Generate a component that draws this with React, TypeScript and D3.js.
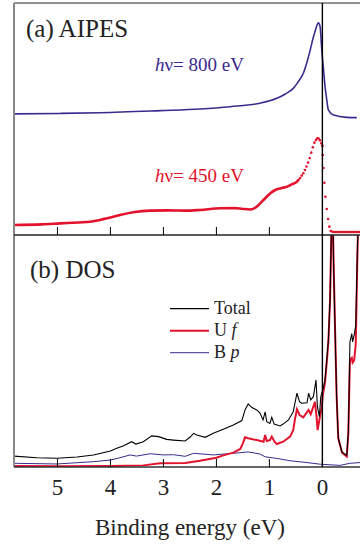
import React from "react";
import * as d3 from "d3";

// ---- Data (binding energy in eV, intensity in arbitrary units) ----
const xTicks = [5, 4, 3, 2, 1, 0];

const aipes800E = [5.82, 4.95, 4.19, 3.06, 2.31, 1.74, 1.18, 0.86, 0.70, 0.55, 0.46, 0.36, 0.29, 0.23, 0.175, 0.14, 0.10, 0.075, 0.043, 0.011, -0.019, -0.051, -0.083, -0.113, -0.21, -0.46, -0.65];
const aipes800I = [5.22, 5.24, 5.27, 5.36, 5.43, 5.53, 5.68, 5.89, 6.08, 6.32, 6.59, 6.97, 7.46, 7.97, 8.49, 8.76, 9.05, 9.15, 8.98, 7.97, 7.2, 6.39, 5.82, 5.39, 5.17, 5.07, 5.06];

const aipes450LineE = [5.82, 5.3, 4.95, 4.6, 4.38, 4.2, 4.0, 3.82, 3.57, 3.25, 2.9, 2.59, 2.31, 1.93, 1.65, 1.5, 1.36, 1.24, 1.15, 1.05, 0.97, 0.89, 0.78, 0.67, 0.58, 0.48];
const aipes450LineI = [0.43, 0.46, 0.50, 0.54, 0.57, 0.65, 0.75, 0.86, 0.98, 1.05, 1.06, 1.05, 1.08, 1.15, 1.16, 1.12, 1.10, 1.22, 1.42, 1.65, 1.82, 1.94, 2.02, 2.08, 2.18, 2.30];
const aipes450DotE = [0.45, 0.42, 0.39, 0.36, 0.33, 0.30, 0.27, 0.24, 0.21, 0.18, 0.15, 0.12, 0.095, 0.07, 0.045, 0.02, 0.0, -0.008, -0.019, -0.038, -0.057, -0.083, -0.108, -0.132, -0.158, -0.19, -0.22, -0.25, -0.28, -0.31, -0.34, -0.37, -0.40, -0.43, -0.46, -0.49, -0.52, -0.55, -0.58, -0.61, -0.64, -0.67, -0.70];
const aipes450DotI = [2.38, 2.46, 2.56, 2.66, 2.80, 2.95, 3.12, 3.32, 3.55, 3.78, 3.98, 4.10, 4.17, 4.16, 4.08, 3.95, 3.84, 3.45, 2.89, 2.25, 1.65, 1.12, 0.69, 0.36, 0.17, 0.14, 0.13, 0.13, 0.13, 0.13, 0.13, 0.13, 0.13, 0.13, 0.13, 0.13, 0.13, 0.13, 0.13, 0.13, 0.13, 0.13, 0.13];

const totalE = [5.82, 5.39, 5.01, 4.63, 4.32, 4.0, 3.88, 3.75, 3.60, 3.52, 3.38, 3.22, 3.09, 2.94, 2.81, 2.59, 2.50, 2.43, 2.37, 2.21, 2.06, 1.87, 1.68, 1.52, 1.46, 1.40, 1.33, 1.24, 1.18, 1.12, 1.08, 1.05, 0.99, 0.955, 0.91, 0.80, 0.74, 0.64, 0.55, 0.48, 0.43, 0.39, 0.29, 0.26, 0.22, 0.17, 0.12, 0.094, 0.057, 0.03, -0.008, -0.05, -0.083, -0.113, -0.145, -0.177, -0.19, -0.21, -0.24, -0.27, -0.30, -0.37, -0.46, -0.49, -0.52, -0.555, -0.57, -0.60, -0.63, -0.66, -0.68, -0.71];
const totalI = [0.47, 0.40, 0.375, 0.43, 0.52, 0.69, 0.81, 0.92, 1.09, 0.99, 1.09, 1.34, 1.31, 1.19, 1.16, 1.12, 1.28, 1.45, 1.38, 1.28, 1.45, 1.63, 1.81, 2.00, 2.46, 2.72, 2.56, 2.46, 2.34, 2.03, 2.38, 1.95, 1.88, 2.14, 1.85, 1.77, 1.85, 2.03, 2.38, 3.18, 2.81, 2.75, 2.77, 3.18, 2.89, 3.03, 3.75, 2.60, 2.17, 3.03, 3.32, 3.75, 4.61, 5.47, 7.25, 11, 12, 8.98, 5.82, 2.94, 1.22, 0.65, 0.50, 1.51, 5.39, 5.75, 5.39, 5.68, 6.11, 9.27, 11, 12];

const ufE = [5.82, 4.95, 4.0, 3.38, 3.06, 2.59, 2.31, 2.0, 1.87, 1.68, 1.55, 1.50, 1.46, 1.40, 1.24, 1.11, 1.08, 1.05, 0.99, 0.955, 0.90, 0.86, 0.74, 0.61, 0.55, 0.52, 0.48, 0.43, 0.36, 0.26, 0.22, 0.14, 0.11, 0.09, 0.057, 0.01, -0.008, -0.05, -0.083, -0.113, -0.145, -0.177, -0.19, -0.21, -0.24, -0.27, -0.30, -0.37, -0.46, -0.49, -0.52, -0.555, -0.57, -0.60, -0.63, -0.66, -0.68, -0.71];
const ufI = [0.04, 0.03, 0.04, 0.07, 0.16, 0.17, 0.27, 0.40, 0.50, 0.62, 0.78, 1.02, 1.28, 1.24, 1.16, 1.09, 1.38, 1.12, 1.16, 1.31, 1.08, 0.99, 1.09, 1.31, 1.59, 2.03, 2.49, 2.24, 2.14, 2.46, 2.28, 2.81, 2.17, 1.59, 2.03, 2.60, 3.10, 3.66, 4.53, 5.39, 7.20, 11, 12, 9.0, 5.9, 3.0, 1.25, 0.62, 0.45, 1.45, 4.6, 4.7, 4.5, 4.6, 5.3, 9.0, 11, 12];

const bpE = [5.82, 5.01, 4.32, 4.0, 3.82, 3.63, 3.51, 3.25, 3.0, 2.81, 2.59, 2.43, 2.06, 1.68, 1.40, 1.18, 1.08, 0.89, 0.61, 0.29, 0.04, -0.33, -0.52, -0.71];
const bpI = [0.16, 0.13, 0.23, 0.30, 0.40, 0.52, 0.47, 0.57, 0.52, 0.53, 0.46, 0.59, 0.52, 0.59, 0.65, 0.56, 0.44, 0.38, 0.27, 0.19, 0.12, 0.07, 0.16, 0.19];

const legendLabels = ["Total", "U", "B"];
const legendItalic = ["", "f", "p"];

const PURPLE = "#3b2a8e";
const RED = "#e3122d";
const FONT = '"Liberation Serif", "Times New Roman", serif';

type P = [number, number];
const zip = (a: number[], b: number[]): P[] => a.map((v, i) => [v, b[i]]);

export default function App() {
  const W = 360, H = 545;
  const left = 14, right = 360, top = 3, mid = 235, bottom = 467;

  const x = d3.scaleLinear().domain([5.82, -0.71]).range([left, right]);
  const yA = d3.scaleLinear().domain([0, 10]).range([mid, top]);
  const yB = d3.scaleLinear().domain([0, 10]).range([bottom, mid]);

  const lineA = d3.line<P>().x(d => x(d[0])).y(d => yA(d[1])).curve(d3.curveMonotoneX);
  const lineB = d3.line<P>().x(d => x(d[0])).y(d => yB(d[1]));

  const s800 = zip(aipes800E, aipes800I);
  const s450L = zip(aipes450LineE, aipes450LineI);
  const s450D = zip(aipes450DotE, aipes450DotI);
  const tot = zip(totalE, totalI);
  const uf = zip(ufE, ufI);
  const bp = zip(bpE, bpI);

  const legendColors = ["#000", RED, PURPLE];
  const legendWidths = [1.2, 2, 1];
  const ts = { fontFamily: FONT } as React.CSSProperties;

  return (
    <svg width={W} height={H} style={{ position: "absolute", left: 0, top: 0, background: "#fff", fontFamily: FONT }}>
      <defs>
        <clipPath id="clipB">
          <rect x={left} y={mid} width={right - left} height={bottom - mid} />
        </clipPath>
        <clipPath id="clipA">
          <rect x={left} y={top} width={right - left} height={mid - top} />
        </clipPath>
      </defs>

      {/* Panel (a) curves */}
      <g clipPath="url(#clipA)">
        <path d={lineA(s800) || ""} fill="none" stroke={PURPLE} strokeWidth={1.6} />
        <path d={lineA(s450L.concat([s450D[0]])) || ""} fill="none" stroke={RED} strokeWidth={2.6} />
        {s450D.map((d, i) => (
          <circle key={i} cx={x(d[0])} cy={yA(d[1])} r={1.3} fill={RED} />
        ))}
      </g>

      {/* Panel (b) curves */}
      <g clipPath="url(#clipB)">
        <path d={lineB(bp) || ""} fill="none" stroke={PURPLE} strokeWidth={1} />
        <path d={lineB(uf) || ""} fill="none" stroke={RED} strokeWidth={2} />
        <path d={lineB(tot) || ""} fill="none" stroke="#000" strokeWidth={1.1} />
      </g>

      {/* Frame */}
      <line x1={left} x2={right} y1={top} y2={top} stroke="#222" strokeWidth={1.2} />
      <line x1={left} x2={left} y1={top} y2={bottom} stroke="#888" strokeWidth={2} />
      <line x1={left} x2={right} y1={mid} y2={mid} stroke="#222" strokeWidth={1.4} />
      <line x1={left} x2={right} y1={bottom} y2={bottom} stroke="#333" strokeWidth={1.6} />
      <line x1={x(0)} x2={x(0)} y1={top} y2={bottom} stroke="#000" strokeWidth={1.4} />

      {/* Ticks */}
      {xTicks.map(t => (
        <g key={t}>
          <line x1={x(t)} x2={x(t)} y1={mid} y2={mid - 8} stroke="#000" strokeWidth={1} />
          <line x1={x(t)} x2={x(t)} y1={bottom} y2={bottom - 8} stroke="#000" strokeWidth={1} />
          <text x={x(t)} y={495} textAnchor="middle" fontSize={23} fill="#222" style={ts}>{t}</text>
        </g>
      ))}

      <text x={190} y={535} textAnchor="middle" fontSize={23} fill="#222" style={ts}>Binding energy (eV)</text>

      <text x={26} y={37} fontSize={25} fill="#222" style={ts}>(a) AIPES</text>
      <text x={30} y={278} fontSize={25} fill="#222" style={ts}>(b) DOS</text>

      <text x={155} y={71} fontSize={19} fill={PURPLE} style={ts}>
        <tspan fontStyle="italic">h</tspan><tspan>ν= 800 eV</tspan>
      </text>
      <text x={155} y={182} fontSize={19} fill={RED} style={ts}>
        <tspan fontStyle="italic">h</tspan><tspan>ν= 450 eV</tspan>
      </text>

      {/* Legend */}
      {legendLabels.map((lab, i) => {
        const ly = 308.7 + i * 22;
        return (
          <g key={lab}>
            <line x1={170} x2={209} y1={ly} y2={ly} stroke={legendColors[i]} strokeWidth={legendWidths[i]} />
            <text x={214} y={ly + 5} fontSize={18} fill="#222" style={ts}>
              {lab}
              {legendItalic[i] ? <tspan fontStyle="italic">{" " + legendItalic[i]}</tspan> : null}
            </text>
          </g>
        );
      })}
    </svg>
  );
}
